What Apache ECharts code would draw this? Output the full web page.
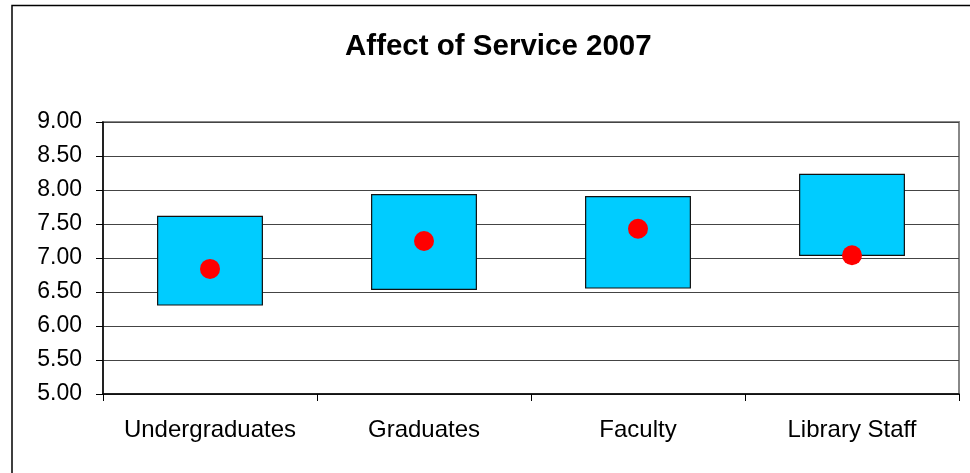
<!DOCTYPE html>
<html>
<head>
<meta charset="utf-8">
<script src="https://cdn.jsdelivr.net/npm/echarts@6/dist/echarts.min.js"></script>
<style>
html,body{margin:0;padding:0;background:#fff;}
#c{width:970px;height:473px;}
</style>
</head>
<body>
<div id="c"></div>
<script>
const categories = ['Undergraduates', 'Graduates', 'Faculty', 'Library Staff'];
const lows  = [6.30, 6.53, 6.55, 7.03];
const highs = [7.62, 7.94, 7.91, 8.24];
const means = [6.84, 7.25, 7.43, 7.04];
const yTicks = { min: 5, max: 9, interval: 0.5 };

const chart = echarts.init(document.getElementById('c'));
const font = '"Liberation Sans", Arial, sans-serif';
chart.setOption({
  animation: false,
  backgroundColor: '#fff',
  title: {
    text: 'Affect of Service 2007',
    left: 340,
    top: 27,
    textStyle: { fontFamily: font, fontWeight: 'bold', fontSize: 29.5, color: '#000' }
  },
  graphic: [{
    type: 'rect',
    shape: { x: 12, y: 5.5, width: 1000, height: 600 },
    style: { fill: 'none', stroke: '#000', lineWidth: 1.5 },
    z: 100, silent: true
  }],
  grid: {
    left: 103, right: 11, top: 122, bottom: 79,
    show: true, borderColor: '#888', borderWidth: 2, backgroundColor: '#fff'
  },
  xAxis: {
    type: 'category',
    data: categories,
    axisLine: { lineStyle: { color: '#000', width: 1.5 } },
    axisTick: { show: true, interval: 0, length: 7, lineStyle: { color: '#000' } },
    axisLabel: { interval: 0, color: '#000', fontFamily: font, fontSize: 24, margin: 24 }
  },
  yAxis: {
    type: 'value',
    min: yTicks.min, max: yTicks.max, interval: yTicks.interval,
    axisLine: { show: true, lineStyle: { color: '#000', width: 1.5 } },
    axisTick: { show: true, length: 7, lineStyle: { color: '#000' } },
    splitLine: { lineStyle: { color: '#444', width: 1 } },
    axisLabel: {
      color: '#000', fontFamily: font, fontSize: 23, margin: 21,
      formatter: v => v.toFixed(2)
    }
  },
  series: [
    {
      type: 'bar', stack: 'box', barWidth: '49.5%',
      itemStyle: { color: 'transparent' },
      data: lows, silent: true
    },
    {
      type: 'bar', stack: 'box', barWidth: '49.5%',
      itemStyle: { color: '#00CCFF', borderColor: '#111', borderWidth: 1.2 },
      data: highs.map((h, i) => +(h - lows[i]).toFixed(2))
    },
    {
      type: 'scatter', z: 5,
      symbol: 'circle', symbolSize: 20,
      itemStyle: { color: '#FF0000', opacity: 1 },
      data: means
    }
  ]
});
</script>
</body>
</html>
